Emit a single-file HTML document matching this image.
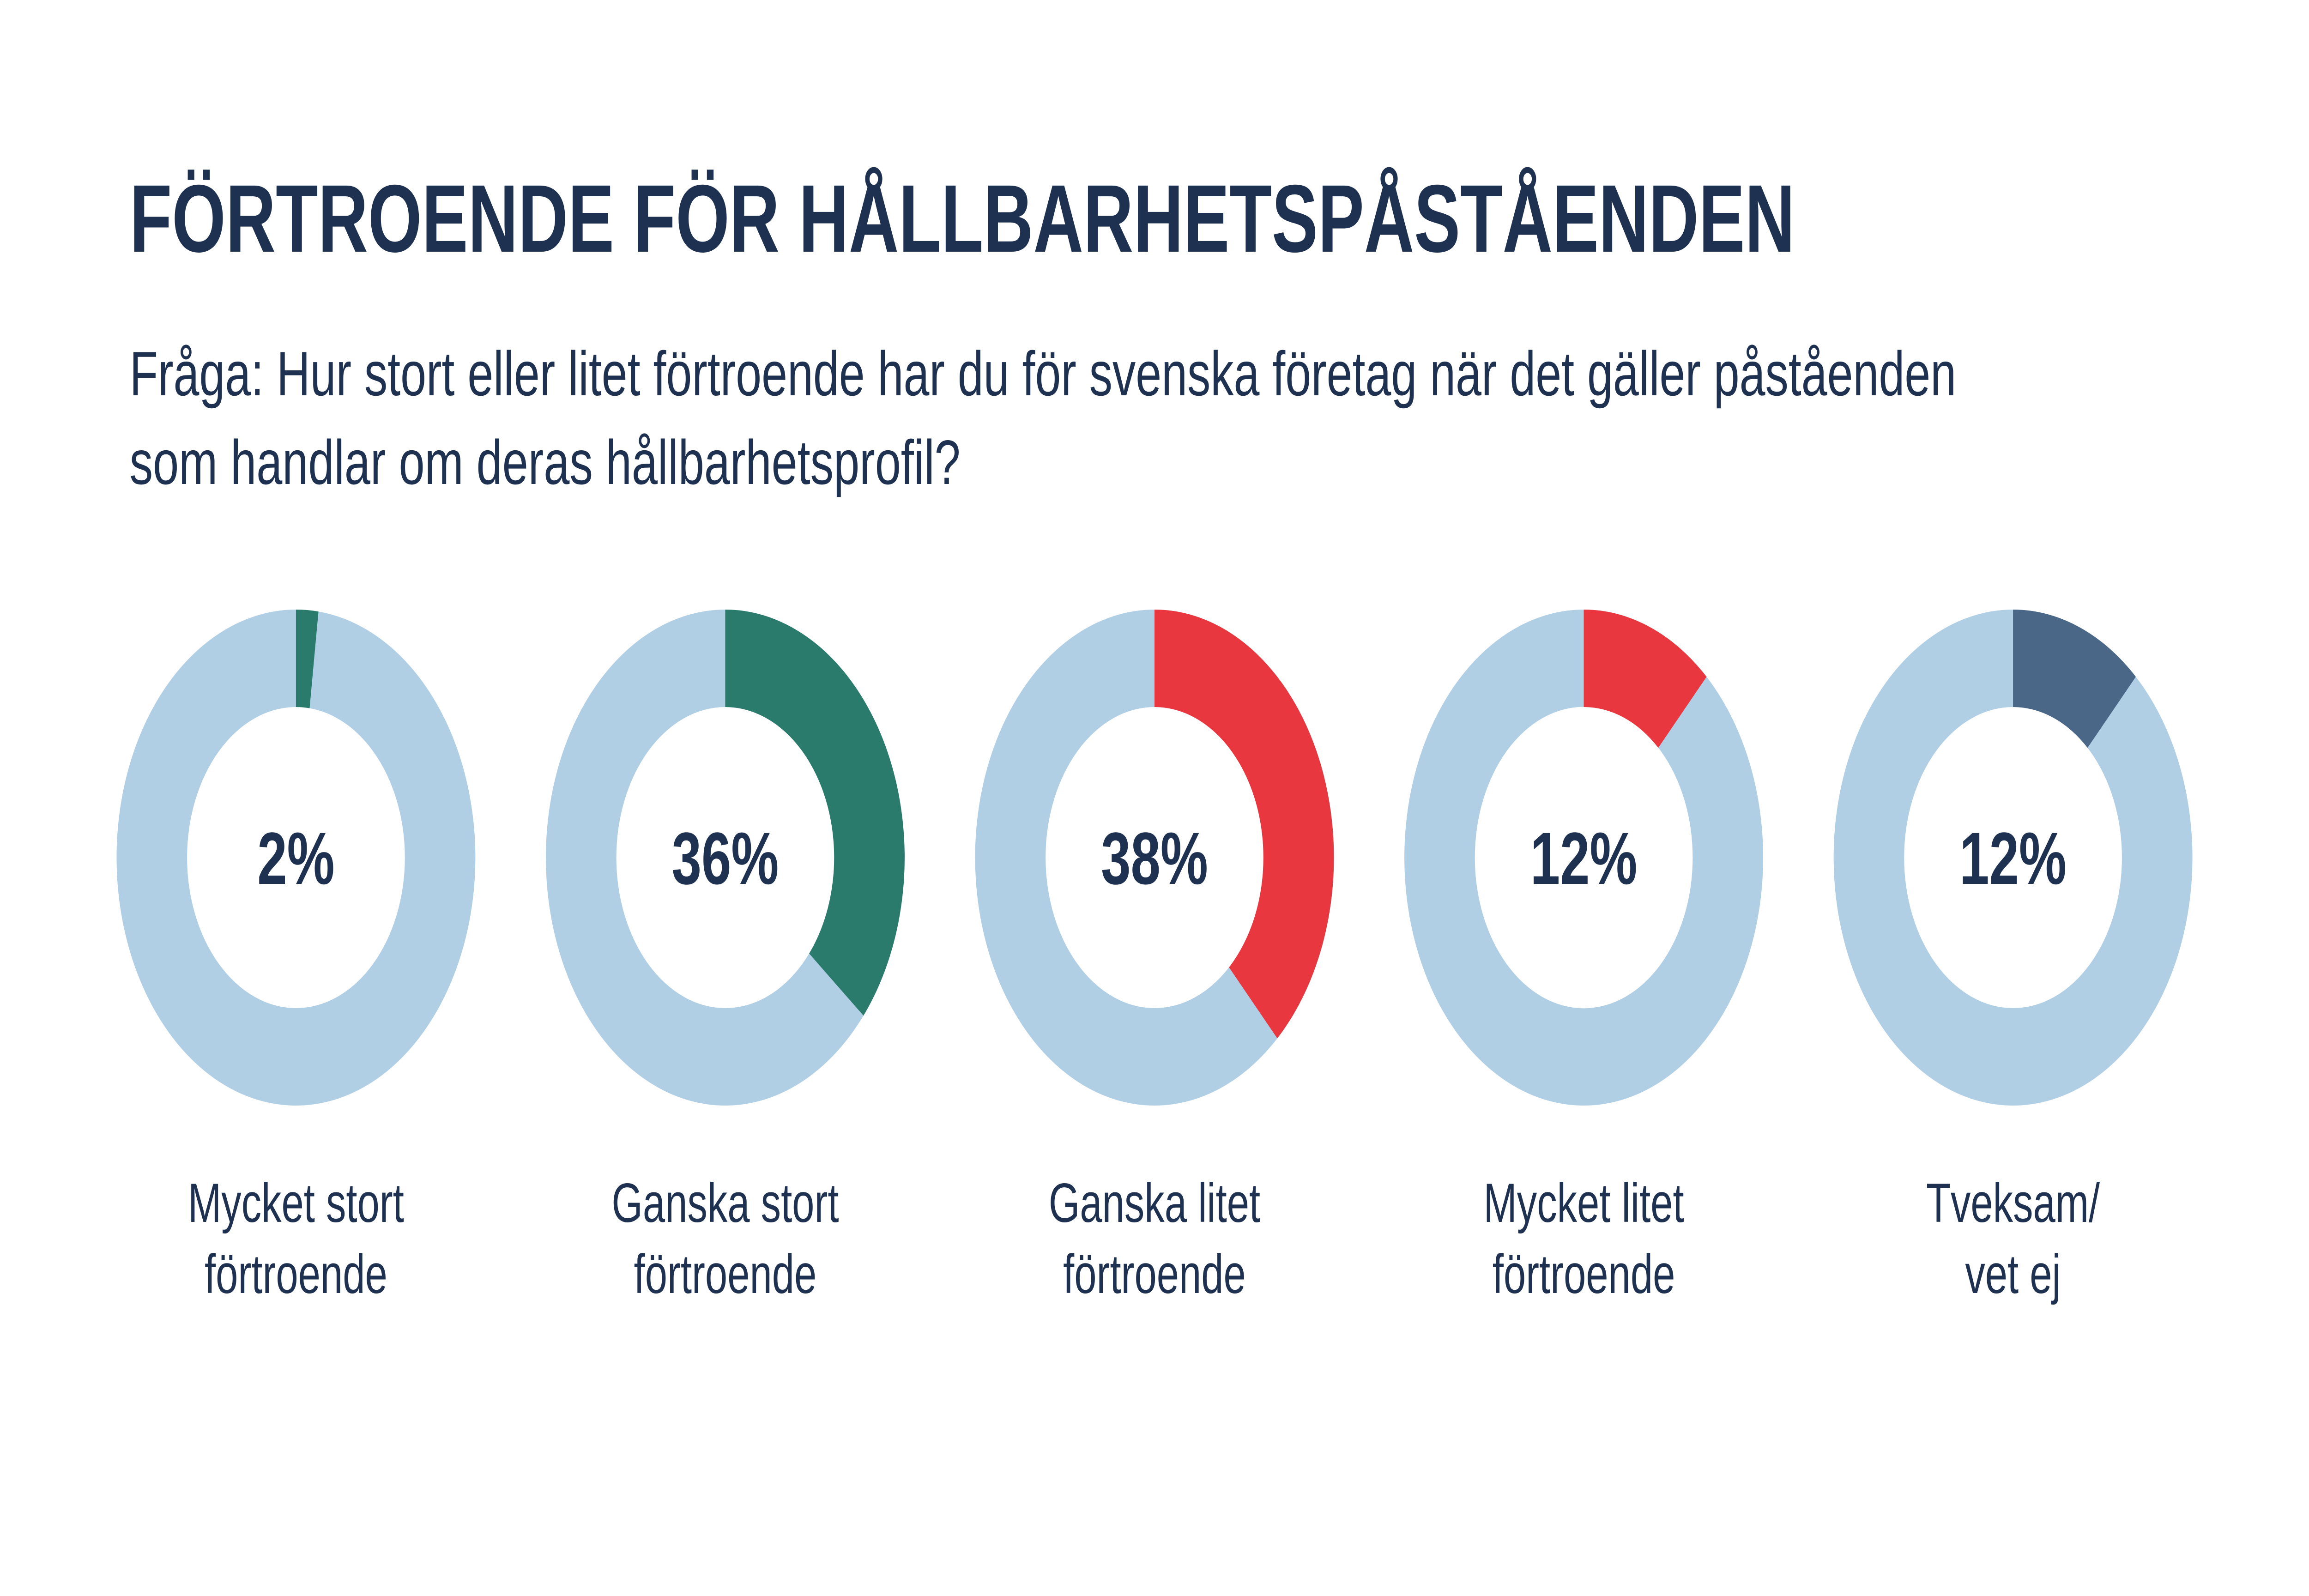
<!DOCTYPE html>
<html><head><meta charset="utf-8"><style>html,body{margin:0;padding:0;background:#fff;width:100%;height:100%;overflow:hidden}svg{display:block;width:100vw;height:100vh}</style></head>
<body>
<svg xmlns="http://www.w3.org/2000/svg" viewBox="0 0 6912 3456" preserveAspectRatio="none">
<rect width="6912" height="3456" fill="#fff"/>
<g fill="#1f3150" font-family="Liberation Sans, sans-serif">
<text x="388" y="545" font-size="208" font-weight="bold" textLength="4985" lengthAdjust="spacingAndGlyphs">FÖRTROENDE FÖR HÅLLBARHETSPÅSTÅENDEN</text>
<text x="388" y="856" font-size="136" textLength="5468" lengthAdjust="spacingAndGlyphs">Fråga: Hur stort eller litet förtroende har du för svenska företag när det gäller påståenden</text>
<text x="388" y="1048" font-size="136" textLength="2487" lengthAdjust="spacingAndGlyphs">som handlar om deras hållbarhetsprofil?</text>
</g>
<g fill="#b0cfe5" fill-rule="evenodd">
<path d="M349,1857a537,537 0 1,0 1074,0a537,537 0 1,0 -1074,0ZM560,1857a326,326 0 1,0 652,0a326,326 0 1,0 -652,0Z"/>
<path d="M1634,1857a537,537 0 1,0 1074,0a537,537 0 1,0 -1074,0ZM1845,1857a326,326 0 1,0 652,0a326,326 0 1,0 -652,0Z"/>
<path d="M2919,1857a537,537 0 1,0 1074,0a537,537 0 1,0 -1074,0ZM3130,1857a326,326 0 1,0 652,0a326,326 0 1,0 -652,0Z"/>
<path d="M4204,1857a537,537 0 1,0 1074,0a537,537 0 1,0 -1074,0ZM4415,1857a326,326 0 1,0 652,0a326,326 0 1,0 -652,0Z"/>
<path d="M5489,1857a537,537 0 1,0 1074,0a537,537 0 1,0 -1074,0ZM5700,1857a326,326 0 1,0 652,0a326,326 0 1,0 -652,0Z"/>
</g>
<path fill="#2a7b6b" d="M886,1320A537,537 0 0 1 953.3,1324.2L926.8,1533.6A326,326 0 0 0 886,1531Z"/>
<path fill="#2a7b6b" d="M2171,1320A537,537 0 0 1 2584.8,2199.3L2422.2,2064.8A326,326 0 0 0 2171,1531Z"/>
<path fill="#e8373f" d="M3456,1320A537,537 0 0 1 3823.6,2248.5L3679.1,2094.7A326,326 0 0 0 3456,1531Z"/>
<path fill="#e8373f" d="M4741,1320A537,537 0 0 1 5108.6,1465.5L4964.1,1619.3A326,326 0 0 0 4741,1531Z"/>
<path fill="#4a6788" d="M6026,1320A537,537 0 0 1 6393.6,1465.5L6249.1,1619.3A326,326 0 0 0 6026,1531Z"/>
<g fill="#1f3150" font-family="Liberation Sans, sans-serif" text-anchor="middle">
<g font-size="160" font-weight="bold">
<text x="886" y="1914">2%</text>
<text x="2171" y="1914">36%</text>
<text x="3456" y="1914">38%</text>
<text x="4741" y="1914">12%</text>
<text x="6026" y="1914">12%</text>
</g>
<g font-size="120">
<text x="886" y="2646">Mycket stort</text><text x="886" y="2800">förtroende</text>
<text x="2171" y="2646">Ganska stort</text><text x="2171" y="2800">förtroende</text>
<text x="3456" y="2646">Ganska litet</text><text x="3456" y="2800">förtroende</text>
<text x="4741" y="2646">Mycket litet</text><text x="4741" y="2800">förtroende</text>
<text x="6026" y="2646">Tveksam/</text><text x="6026" y="2800">vet ej</text>
</g>
</g>
</svg>
</body></html>
